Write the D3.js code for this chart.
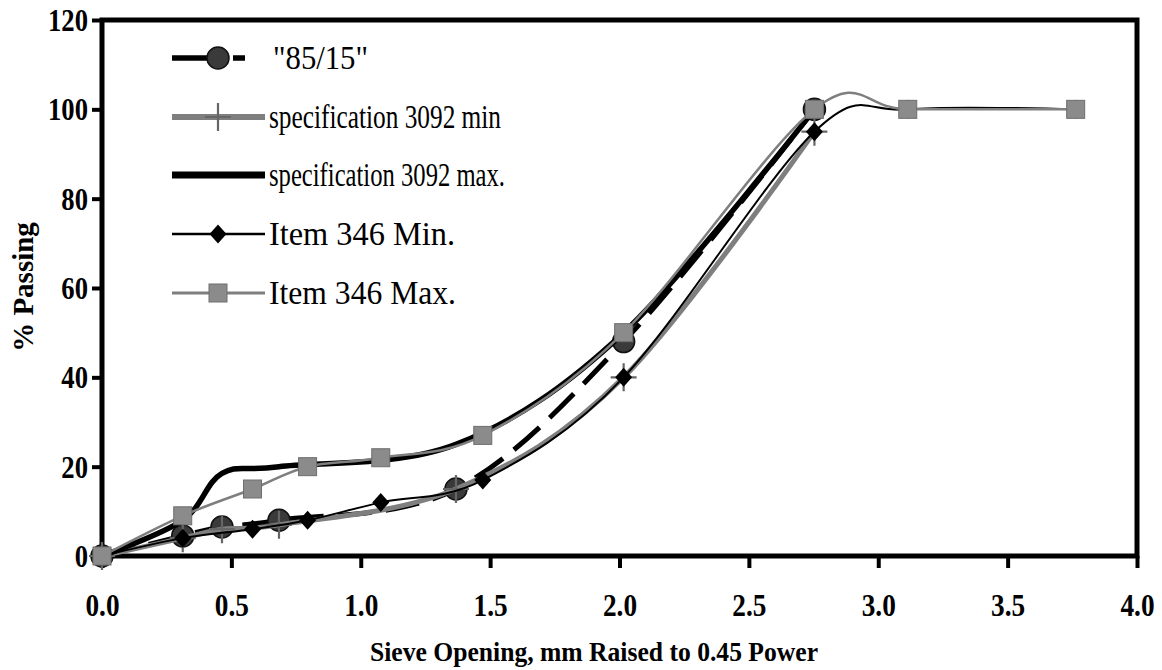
<!DOCTYPE html>
<html>
<head>
<meta charset="utf-8">
<script src="https://cdn.jsdelivr.net/npm/d3@7/dist/d3.min.js"></script>
<style>
  html, body { margin: 0; padding: 0; background: #fff; }
  svg { display: block; }
  text { font-family: "Liberation Serif", "Times New Roman", serif; fill: #000; }
</style>
</head>
<body>
<svg id="chart" width="1162" height="670"></svg>
<script>
// Sieve openings (mm) raised to the 0.45 power
const xSpec  = [0, 0.312, 0.4637, 0.684, 1.368, 2.016, 2.7533];
const xItem  = [0, 0.312, 0.5817, 0.7946, 1.0773, 1.4716, 2.016, 2.7533, 3.114, 3.763];

// Percent passing for each gradation
const blend8515 = [0, 4.5, 6.5, 8, 15, 48, 100];
const specMin   = [0, 4, 6, 7, 15, 40, 95];
const specMax   = [0, 8, 18.5, 20, 25, 50, 100];
const itemMin   = [0, 4, 6, 8, 12, 17, 40, 95, 100, 100];
const itemMax   = [0, 9, 15, 20, 22, 27, 50, 100, 100, 100];

// Axis ticks
const xTicks = [0, 0.5, 1.0, 1.5, 2.0, 2.5, 3.0, 3.5, 4.0];
const yTicks = [0, 20, 40, 60, 80, 100, 120];

const legendLabels = ['"85/15"', "specification 3092 min", "specification 3092 max.", "Item 346 Min.", "Item 346 Max."];
const legendWidths = [95, 232, 236, 186, 187];

const svg = d3.select("#chart");
const L = 102, R = 1137, T = 20, B = 556;

const x = d3.scaleLinear().domain([0, 4]).range([L, R]);
const y = d3.scaleLinear().domain([0, 120]).range([B, T]);

const GRAY = "#7f7f7f";
const SQ_FILL = "#8b8b8b";

// Series styling
const series = [
  { xs: xSpec, ys: blend8515, stroke: "#000", width: 5, dash: "34,14", marker: "circle" },
  { xs: xSpec, ys: specMin,   stroke: GRAY,   width: 5, dash: null,    marker: "cross" },
  { xs: xSpec, ys: specMax,   stroke: "#000", width: 5.5, dash: null,  marker: "none" },
  { xs: xItem, ys: itemMin,   stroke: "#000", width: 2, dash: null,    marker: "diamond" },
  { xs: xItem, ys: itemMax,   stroke: GRAY,   width: 2.5, dash: null,  marker: "square" }
];

function drawMarker(g, type, cx, cy) {
  if (type === "circle") {
    g.append("circle").attr("cx", cx).attr("cy", cy).attr("r", 11)
      .attr("fill", "#3a3a3a").attr("stroke", "#111").attr("stroke-width", 1.5);
  } else if (type === "cross") {
    g.append("path")
      .attr("d", `M${cx - 13},${cy}H${cx + 13}M${cx},${cy - 14}V${cy + 14}`)
      .attr("stroke", "#666").attr("stroke-width", 2.2).attr("fill", "none");
  } else if (type === "diamond") {
    g.append("path")
      .attr("d", `M${cx},${cy - 9.5}L${cx + 8.5},${cy}L${cx},${cy + 9.5}L${cx - 8.5},${cy}Z`)
      .attr("fill", "#000");
  } else if (type === "square") {
    g.append("rect").attr("x", cx - 9).attr("y", cy - 9).attr("width", 18).attr("height", 18)
      .attr("fill", SQ_FILL).attr("stroke", "#6e6e6e").attr("stroke-width", 1);
  }
}

// Axes
const xAxis = d3.axisBottom(x).tickValues(xTicks).tickFormat(d3.format(".1f")).tickSize(12).tickSizeOuter(0);
const yAxis = d3.axisLeft(y).tickValues(yTicks).tickFormat(d3.format("d")).tickSize(10).tickSizeOuter(0);

const gx = svg.append("g").attr("transform", `translate(0,${B})`).call(xAxis);
const gy = svg.append("g").attr("transform", `translate(${L},0)`).call(yAxis);

[gx, gy].forEach(g => {
  g.select(".domain").remove();
  g.selectAll(".tick line").attr("stroke", "#000").attr("stroke-width", 4);
  g.selectAll(".tick text")
    .attr("font-weight", "bold")
    .attr("font-size", 31)
    .attr("fill", "#000");
});
gx.selectAll(".tick text").attr("y", 60).attr("dy", 0)
  .attr("transform", "scale(0.88,1)");
gy.selectAll(".tick text").attr("x", -14 / 0.86).attr("dy", "0.34em")
  .attr("transform", "scale(0.86,1)");

// Frame
svg.append("rect").attr("x", L).attr("y", T).attr("width", R - L).attr("height", B - T)
  .attr("fill", "none").attr("stroke", "#000").attr("stroke-width", 5);

// Lines and markers
const line = d3.line().curve(d3.curveCardinal.tension(0));
const plot = svg.append("g");
series.forEach(s => {
  const pts = s.xs.map((v, i) => [x(v), y(s.ys[i])]);
  plot.append("path").attr("d", line(pts)).attr("fill", "none")
    .attr("stroke", s.stroke).attr("stroke-width", s.width)
    .attr("stroke-dasharray", s.dash).attr("stroke-linejoin", "round");
  const mg = plot.append("g");
  pts.forEach(p => drawMarker(mg, s.marker, p[0], p[1]));
});

// Legend
const lg = svg.append("g");
const rowY = [58, 117, 175, 234, 293];
series.forEach((s, i) => {
  const cy = rowY[i];
  lg.append("line").attr("x1", 172).attr("x2", 265).attr("y1", cy).attr("y2", cy)
    .attr("stroke", s.stroke).attr("stroke-width", i === 2 ? 7 : s.width + (i === 1 ? 1 : 0.5))
    .attr("stroke-dasharray", i === 0 ? "42,19,12,30" : null);
  drawMarker(lg, s.marker, 218, cy);
  lg.append("text").attr("x", i === 0 ? 273 : 269).attr("y", cy + 11)
    .attr("font-size", 33)
    .attr("textLength", legendWidths[i]).attr("lengthAdjust", "spacingAndGlyphs")
    .text(legendLabels[i]);
});

// Axis titles
svg.append("text").attr("x", 594).attr("y", 661).attr("text-anchor", "middle")
  .attr("font-weight", "bold").attr("font-size", 28)
  .attr("textLength", 448).attr("lengthAdjust", "spacingAndGlyphs")
  .text("Sieve Opening, mm Raised to 0.45 Power");

svg.append("text").attr("transform", "translate(33,287) rotate(-90)")
  .attr("text-anchor", "middle").attr("font-weight", "bold").attr("font-size", 29)
  .text("% Passing");
</script>
</body>
</html>
